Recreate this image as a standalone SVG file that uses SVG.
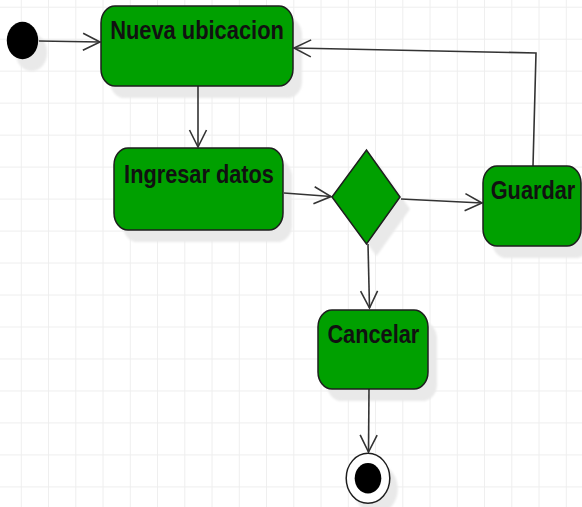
<svg xmlns="http://www.w3.org/2000/svg" width="582" height="507" viewBox="0 0 582 507">
  <defs>
    <pattern id="grid" x="20.8" y="6.7" width="27.25" height="31.98" patternUnits="userSpaceOnUse">
      <path d="M0,0 V31.98 M0,0 H27.25" fill="none" stroke="#eeeeee" stroke-width="2"/>
    </pattern>
    <marker id="open-arrow" markerUnits="userSpaceOnUse" markerWidth="24" markerHeight="24" viewBox="-20 -12 24 24" refX="0" refY="0" orient="auto">
      <path d="M-17,-8.5 L0,0 L-17,8.5" fill="none" stroke="#333333" stroke-width="1.6"/>
    </marker>
    <filter id="soft" x="-20%" y="-20%" width="140%" height="140%">
      <feGaussianBlur stdDeviation="1.2"/>
    </filter>
    <style>
      .node { fill: #00a000; stroke: #1e1e1e; stroke-width: 1.5; }
      .shadow { fill: #e9e9e9; filter: url(#soft); }
      .edge { fill: none; stroke: #333333; stroke-width: 1.6; marker-end: url(#open-arrow); }
      .label { font-family: "Liberation Sans", Arial, sans-serif; font-weight: bold; font-size: 25px; fill: #111111; text-anchor: middle; }
    </style>
  </defs>

  <!-- background grid -->
  <rect x="0" y="0" width="582" height="507" fill="#ffffff"/>
  <rect x="0" y="0" width="582" height="507" fill="url(#grid)"/>

  <!-- drop shadows -->
  <g id="shadows">
    <ellipse class="shadow" cx="31.5" cy="52.5" rx="15.7" ry="18.7"/>
    <rect class="shadow" x="110" y="18" width="192" height="80" rx="14" ry="17"/>
    <rect class="shadow" x="123" y="160" width="169" height="82" rx="14" ry="17"/>
    <polygon class="shadow" points="342,209 376.5,162 410,209 376.5,256"/>
    <rect class="shadow" x="492" y="178" width="98" height="80" rx="14" ry="17"/>
    <rect class="shadow" x="327" y="322" width="110" height="79" rx="14" ry="17"/>
    <ellipse class="shadow" cx="376" cy="489" rx="21.8" ry="25"/>
  </g>

  <!-- connectors -->
  <g id="connectors">
    <path class="edge" d="M39,41 L100,42"/>
    <path class="edge" d="M198,86 L198,147"/>
    <path class="edge" d="M284,193 L331,196.5"/>
    <path class="edge" d="M401,199 L482,203"/>
    <path class="edge" d="M368,244 L369.5,308"/>
    <path class="edge" d="M533,166 L536,53 L294,48"/>
    <path class="edge" d="M369,389 L368.5,452"/>
  </g>

  <!-- initial state -->
  <g id="start">
    <ellipse cx="22.5" cy="40.5" rx="15.7" ry="18.7" fill="#000000"/>
  </g>

  <!-- labels are set in a horizontally condensed bold face -->
  <g id="nueva-ubicacion">
    <rect class="node" x="101" y="6" width="192" height="80" rx="14" ry="17"/>
    <text class="label" transform="translate(197,39.3) scale(0.875,1)">Nueva ubicacion</text>
  </g>

  <g id="ingresar-datos">
    <rect class="node" x="114" y="148" width="169" height="82" rx="14" ry="17"/>
    <text class="label" transform="translate(199,183.3) scale(0.87,1)">Ingresar datos</text>
  </g>

  <g id="decision">
    <polygon class="node" points="332,197 366.5,150 400,197 366.5,244"/>
  </g>

  <g id="guardar">
    <rect class="node" x="483" y="166" width="98" height="80" rx="14" ry="17"/>
    <text class="label" transform="translate(533,199.3) scale(0.87,1)">Guardar</text>
  </g>

  <g id="cancelar">
    <rect class="node" x="318" y="310" width="110" height="79" rx="14" ry="17"/>
    <text class="label" transform="translate(373.3,343.3) scale(0.87,1)">Cancelar</text>
  </g>

  <!-- final state -->
  <g id="end">
    <ellipse cx="368" cy="478.3" rx="21.8" ry="25" fill="#ffffff" stroke="#1e1e1e" stroke-width="1.5"/>
    <ellipse cx="368" cy="478.3" rx="13.3" ry="15.3" fill="#000000"/>
  </g>
</svg>
